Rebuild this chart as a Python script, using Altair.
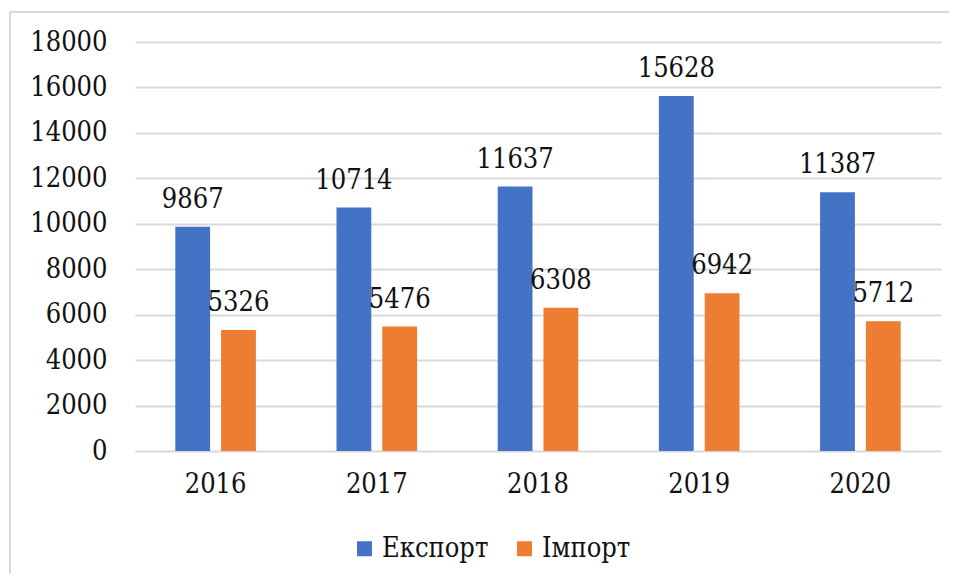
import altair as alt
import pandas as pd

years = ["2016", "2017", "2018", "2019", "2020"]
series = ["Експорт", "Імпорт"]
export_vals = [9867, 10714, 11637, 15628, 11387]
import_vals = [5326, 5476, 6308, 6942, 5712]
colors = ["#4472C4", "#ED7D31"]
y_ticks = list(range(0, 18001, 2000))

rows = []
for y, e, i in zip(years, export_vals, import_vals):
    rows.append({"year": y, "series": series[0], "value": e})
    rows.append({"year": y, "series": series[1], "value": i})
df = pd.DataFrame(rows)

FONT = "DejaVu Serif Condensed, DejaVu Serif"
FS = 27

x_enc = alt.X(
    "year:N",
    sort=years,
    scale=alt.Scale(paddingInner=0.5, paddingOuter=0.25),
    axis=alt.Axis(title=None, labelAngle=0, domain=False, ticks=False,
                  labelPadding=20, labelFont=FONT, labelFontSize=FS,
                  labelColor="#111111", grid=False),
)
xoff_enc = alt.XOffset("series:N", sort=series,
                       scale=alt.Scale(domain=series, paddingInner=0.24))
y_enc = alt.Y(
    "value:Q",
    scale=alt.Scale(domain=[0, 18000], nice=False),
    axis=alt.Axis(title=None, values=y_ticks, format="d", domain=False,
                  ticks=False, labelPadding=28, labelFont=FONT,
                  labelFontSize=FS, labelColor="#111111",
                  gridColor="#D9D9D9", gridWidth=2),
)

base = alt.Chart(df)

bars = base.mark_bar().encode(
    x=x_enc,
    xOffset=xoff_enc,
    y=y_enc,
    color=alt.Color(
        "series:N",
        scale=alt.Scale(domain=series, range=colors),
        legend=alt.Legend(
            title=None, orient="none", legendX=216, legendY=493,
            direction="horizontal", symbolType="square", symbolSize=225,
            symbolStrokeWidth=0, labelFont=FONT, labelFontSize=FS,
            labelColor="#111111", labelOffset=4, columnPadding=22,
        ),
    ),
)

labels = base.mark_text(dy=-19, baseline="alphabetic", font=FONT,
                        fontSize=FS, color="#111111").encode(
    x=x_enc,
    xOffset=xoff_enc,
    y=y_enc,
    text=alt.Text("value:Q", format="d"),
)

frame_data = alt.Data(values=[{"k": 1}])
top_line = alt.Chart(frame_data).mark_rule(color="#D9D9D9", strokeWidth=2).encode(
    x=alt.value(-125), x2=alt.value(830), y=alt.value(-30)
)
left_line = alt.Chart(frame_data).mark_rule(color="#D9D9D9", strokeWidth=2).encode(
    x=alt.value(-125), y=alt.value(-30), y2=alt.value(560)
)

chart = alt.layer(top_line, left_line, bars, labels).properties(
    width=806,
    height=409,
    autosize=alt.AutoSizeParams(type="none"),
    padding={"left": 127, "top": 34, "right": 8, "bottom": 123},
).configure_view(stroke=None)

chart.save("out.html", embed_options={"renderer": "svg", "actions": False})
